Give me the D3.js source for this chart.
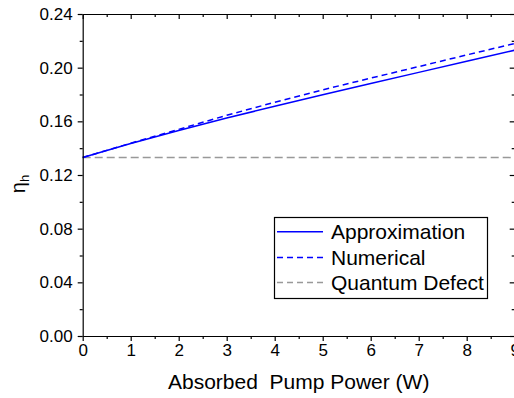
<!DOCTYPE html>
<html>
<head>
<meta charset="utf-8">
<script src="https://cdn.jsdelivr.net/npm/d3@7/dist/d3.min.js"></script>
<style>
  html, body { margin: 0; padding: 0; background: #fff; }
  svg { display: block; font-family: "Liberation Sans", Arial, sans-serif; }
</style>
</head>
<body>
<svg id="chart" width="514" height="398"></svg>
<script>
// Absorbed pump power (W)
const power = [0, 1, 2, 3, 4, 5, 6, 7, 8, 9];
// Heat fraction from the analytic approximation
const approximation = [0.1330, 0.1435, 0.1532, 0.1625, 0.1712, 0.1798, 0.1882, 0.1965, 0.2048, 0.2130];
// Heat fraction from the numerical solution
const numerical = [0.1330, 0.1437, 0.1540, 0.1645, 0.1742, 0.1835, 0.1922, 0.2008, 0.2095, 0.2180];
// Quantum defect limit
const quantumDefect = [0.133, 0.133];
const quantumDefectPower = [0, 9];

const xTicks = [0, 1, 2, 3, 4, 5, 6, 7, 8, 9];
const yTicks = [0.00, 0.04, 0.08, 0.12, 0.16, 0.20, 0.24];
const legendLabels = ["Approximation", "Numerical", "Quantum Defect"];

const svg = d3.select("#chart");
const plotLeft = 82.7, plotRight = 514.7, plotTop = 14, plotBottom = 336;

const x = d3.scaleLinear().domain([0, 9]).range([plotLeft, plotRight]);
const y = d3.scaleLinear().domain([0, 0.24]).range([plotBottom, plotTop]);

const xMinor = d3.range(0.5, 9.5, 1);
const yMinor = d3.range(0.02, 0.24, 0.04);

// Plot curves
const line = d3.line().x(d => x(d[0])).y(d => y(d[1]));

svg.append("path")
  .datum(quantumDefectPower.map((p, i) => [p, quantumDefect[i]]))
  .attr("d", line)
  .attr("fill", "none").attr("stroke", "#999").attr("stroke-width", 1.5)
  .attr("stroke-dasharray", "8,4");

svg.append("path")
  .datum(power.map((p, i) => [p, numerical[i]]))
  .attr("d", line)
  .attr("fill", "none").attr("stroke", "#0000ff").attr("stroke-width", 1.5)
  .attr("stroke-dasharray", "6,4");

svg.append("path")
  .datum(power.map((p, i) => [p, approximation[i]]))
  .attr("d", line)
  .attr("fill", "none").attr("stroke", "#0000ff").attr("stroke-width", 1.5);

// Axes: bottom and left ticks point outward, top and right point inward
function styleAxis(g) {
  g.selectAll("path").attr("stroke", "#000").attr("stroke-width", 1.2);
  g.selectAll("line").attr("stroke", "#000").attr("stroke-width", 1.2);
}

const fmt = d3.format(".2f");

const xAxis = svg.append("g")
  .attr("transform", `translate(0,${plotBottom})`)
  .call(d3.axisBottom(x).tickValues(xTicks).tickSize(5).tickSizeOuter(0).tickPadding(3).tickFormat(d3.format("d")));
xAxis.call(styleAxis);
xAxis.selectAll("text").attr("font-size", 17).attr("fill", "#000")
  .attr("font-family", "Liberation Sans, Arial, sans-serif");
svg.append("g")
  .attr("transform", `translate(0,${plotBottom})`)
  .call(d3.axisBottom(x).tickValues(xMinor).tickSize(3).tickSizeOuter(0).tickFormat(""))
  .call(styleAxis).select("path").remove();

const yAxis = svg.append("g")
  .attr("transform", `translate(${plotLeft},0)`)
  .call(d3.axisLeft(y).tickValues(yTicks).tickSize(5).tickSizeOuter(0).tickPadding(5).tickFormat(fmt));
yAxis.call(styleAxis);
yAxis.selectAll("text").attr("font-size", 17).attr("fill", "#000")
  .attr("font-family", "Liberation Sans, Arial, sans-serif");
svg.append("g")
  .attr("transform", `translate(${plotLeft},0)`)
  .call(d3.axisLeft(y).tickValues(yMinor).tickSize(3).tickSizeOuter(0).tickFormat(""))
  .call(styleAxis).select("path").remove();

svg.append("g")
  .attr("transform", `translate(0,${plotTop})`)
  .call(d3.axisTop(x).tickValues(xTicks).tickSize(-5).tickSizeOuter(0).tickFormat(""))
  .call(styleAxis);
svg.append("g")
  .attr("transform", `translate(0,${plotTop})`)
  .call(d3.axisTop(x).tickValues(xMinor).tickSize(-3).tickSizeOuter(0).tickFormat(""))
  .call(styleAxis).select("path").remove();

svg.append("g")
  .attr("transform", `translate(${plotRight},0)`)
  .call(d3.axisRight(y).tickValues(yTicks).tickSize(-5).tickSizeOuter(0).tickFormat(""))
  .call(styleAxis);
svg.append("g")
  .attr("transform", `translate(${plotRight},0)`)
  .call(d3.axisRight(y).tickValues(yMinor).tickSize(-3).tickSizeOuter(0).tickFormat(""))
  .call(styleAxis).select("path").remove();

// Axis titles
svg.append("text")
  .attr("x", (plotLeft + plotRight) / 2).attr("y", 389)
  .attr("text-anchor", "middle").attr("font-size", 21).attr("fill", "#000")
  .attr("xml:space", "preserve")
  .text("Absorbed  Pump Power (W)");

const yTitle = svg.append("text")
  .attr("transform", "translate(25,184) rotate(-90)")
  .attr("text-anchor", "middle").attr("font-size", 20).attr("fill", "#000");
yTitle.append("tspan").text("η");
yTitle.append("tspan").attr("font-size", 13).attr("dy", 4).text("h");

// Legend
const legend = svg.append("g");
legend.append("rect")
  .attr("x", 274.5).attr("y", 217.5).attr("width", 213).attr("height", 81)
  .attr("fill", "#fff").attr("stroke", "#000").attr("stroke-width", 1.2);

const legendStyles = [
  { color: "#0000ff", dash: null },
  { color: "#0000ff", dash: "6,4" },
  { color: "#999", dash: "6,4" }
];
const rowY = [231.7, 257.5, 282.5];
legendLabels.forEach((label, i) => {
  legend.append("line")
    .attr("x1", 277).attr("x2", 323).attr("y1", rowY[i]).attr("y2", rowY[i])
    .attr("stroke", legendStyles[i].color).attr("stroke-width", 1.5)
    .attr("stroke-dasharray", legendStyles[i].dash);
  legend.append("text")
    .attr("x", 331).attr("y", rowY[i] + 7.5)
    .attr("font-size", 21).attr("fill", "#000")
    .text(label);
});
</script>
</body>
</html>
